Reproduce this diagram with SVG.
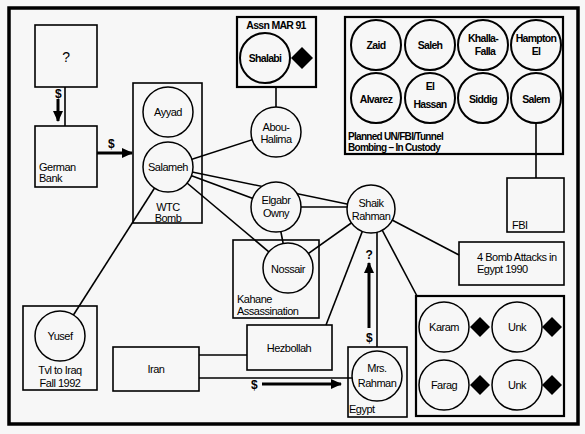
<svg xmlns="http://www.w3.org/2000/svg" width="585" height="434" viewBox="0 0 585 434">
<defs>
<marker id="ah" markerUnits="userSpaceOnUse" markerWidth="12" markerHeight="10" refX="10" refY="5" orient="auto">
<path d="M0,0 L11,5 L0,10 Z" fill="#000"/>
</marker>
<style>
text{font-family:"Liberation Sans",Arial,sans-serif;font-size:11px;fill:#000;letter-spacing:-0.5px}
.c{text-anchor:middle}
.b{font-weight:bold;font-size:10.5px;letter-spacing:-0.7px}
.bs{font-size:10px}
.bx{fill:none;stroke:#000;stroke-width:1.6}
.bx2{fill:none;stroke:#000;stroke-width:2.2}
.ci{fill:#f7f7f7;stroke:#000;stroke-width:1.5}
.ci2{fill:#f7f7f7;stroke:#000;stroke-width:2}
.ln{stroke:#000;stroke-width:1.6;fill:none}
.ar{stroke:#000;stroke-width:3;fill:none;marker-end:url(#ah)}
.d{font-weight:bold;font-size:12px}
.dm{fill:#000}
</style>
</defs>
<rect x="0" y="0" width="585" height="434" fill="#f7f7f7"/>
<rect x="9" y="8" width="569" height="416" fill="none" stroke="#000" stroke-width="3.5"/>

<g id="connectors">
<line class="ln" x1="65" y1="87" x2="65" y2="126"/>
<line class="ar" x1="58" y1="99" x2="58" y2="121"/>
<text class="d c" x="58" y="98">$</text>
<line class="ar" x1="97" y1="153" x2="132" y2="153"/>
<text class="d c" x="111" y="148">$</text>
<line class="ln" x1="276" y1="87" x2="276" y2="110"/>
<line class="ln" x1="168" y1="167" x2="276" y2="132"/>
<line class="ln" x1="168" y1="167" x2="371" y2="209"/>
<line class="ln" x1="168" y1="167" x2="276" y2="207"/>
<line class="ln" x1="168" y1="167" x2="288" y2="268"/>
<line class="ln" x1="168" y1="167" x2="60" y2="336"/>
<line class="ln" x1="276" y1="207" x2="371" y2="207"/>
<line class="ln" x1="276" y1="207" x2="288" y2="268"/>
<line class="ln" x1="288" y1="268" x2="371" y2="209"/>
<line class="ln" x1="371" y1="209" x2="326" y2="325"/>
<line class="ln" x1="377" y1="215" x2="377" y2="347"/>
<line class="ln" x1="371" y1="209" x2="459" y2="255"/>
<line class="ln" x1="371" y1="209" x2="417" y2="296"/>
<line class="ln" x1="536" y1="98" x2="536" y2="178"/>
<line class="ln" x1="199" y1="355" x2="247" y2="355"/>
<line class="ln" x1="199" y1="378" x2="377" y2="378"/>
<line class="ar" x1="262" y1="384" x2="341" y2="384"/>
<text class="d c" x="254" y="389">$</text>
<line class="ar" x1="369" y1="328" x2="369" y2="263"/>
<text class="d c" x="369" y="259">?</text>
<text class="d c" x="369" y="342">$</text>
</g>

<g id="unknown">
<rect class="bx" x="35" y="25" width="62" height="62"/>
<text class="c" x="66" y="62" style="font-size:14px">?</text>
</g>
<g id="german-bank">
<rect class="bx" x="35" y="126" width="62" height="61"/>
<text x="39" y="171">German</text>
<text x="39" y="182">Bank</text>
</g>
<g id="wtc-bomb">
<rect class="bx" x="133" y="83" width="69" height="140"/>
<text class="c" x="168" y="211">WTC</text>
<text class="c" x="168" y="222">Bomb</text>
</g>
<g id="ayyad">
<circle class="ci" cx="168" cy="112" r="25"/>
<text class="c" x="168" y="116">Ayyad</text>
</g>
<g id="salameh">
<circle class="ci" cx="168" cy="167" r="25"/>
<text class="c" x="168" y="171">Salameh</text>
</g>
<g id="assn-mar-91">
<rect class="bx2" x="237" y="17" width="79" height="70"/>
<text class="c b" x="276" y="29">Assn MAR 91</text>
</g>
<g id="shalabi">
<circle class="ci2" cx="265" cy="58" r="25"/>
<text class="c b" x="265" y="62">Shalabi</text>
<polygon class="dm" points="302,47 313,58 302,69 291,58"/>
</g>
<g id="abou-halima">
<circle class="ci" cx="276" cy="132" r="25"/>
<text class="c" x="276" y="131">Abou-</text>
<text class="c" x="276" y="143">Halima</text>
</g>
<g id="planned-un-fbi-tunnel">
<rect class="bx2" x="345" y="17" width="218" height="137"/>
<text class="b bs" x="348" y="140">Planned UN/FBI/Tunnel</text>
<text class="b bs" x="348" y="151">Bombing – In Custody</text>
</g>
<g id="zaid"><circle class="ci2" cx="376" cy="45" r="25"/><text class="c b" x="376" y="49">Zaid</text></g>
<g id="saleh"><circle class="ci2" cx="430" cy="45" r="25"/><text class="c b" x="430" y="49">Saleh</text></g>
<g id="khalla-falla"><circle class="ci2" cx="483" cy="45" r="25"/><text class="c b" x="483" y="42">Khalla-</text><text class="c b" x="485" y="55">Falla</text></g>
<g id="hampton-el"><circle class="ci2" cx="536" cy="45" r="25"/><text class="c b" x="536" y="42">Hampton</text><text class="c b" x="536" y="55">El</text></g>
<g id="alvarez"><circle class="ci2" cx="376" cy="98" r="25"/><text class="c b" x="376" y="103">Alvarez</text></g>
<g id="el-hassan"><circle class="ci2" cx="430" cy="98" r="25"/><text class="c b" x="430" y="90">El</text><text class="c b" x="430" y="108">Hassan</text></g>
<g id="siddig"><circle class="ci2" cx="483" cy="98" r="25"/><text class="c b" x="483" y="103">Siddig</text></g>
<g id="salem"><circle class="ci2" cx="536" cy="98" r="25"/><text class="c b" x="536" y="103">Salem</text></g>
<g id="fbi">
<rect class="bx" x="507" y="178" width="57" height="54"/>
<text x="512" y="229">FBI</text>
</g>
<g id="elgabr-owny">
<circle class="ci" cx="276" cy="207" r="25"/>
<text class="c" x="276" y="204">Elgabr</text>
<text class="c" x="276" y="217">Owny</text>
</g>
<g id="kahane-assassination">
<rect class="bx" x="233" y="240" width="86" height="78"/>
<text x="237" y="303">Kahane</text>
<text x="237" y="315">Assassination</text>
</g>
<g id="nossair">
<circle class="ci" cx="288" cy="268" r="25"/>
<text class="c" x="288" y="273">Nossair</text>
</g>
<g id="shaik-rahman">
<circle class="ci" cx="371" cy="209" r="24"/>
<text class="c" x="371" y="207">Shaik</text>
<text class="c" x="371" y="220">Rahman</text>
</g>
<g id="bomb-attacks-egypt">
<rect class="bx" x="459" y="242" width="105" height="43"/>
<text x="477" y="261">4 Bomb Attacks in</text>
<text x="477" y="273">Egypt 1990</text>
</g>
<g id="karam-group">
<rect class="bx2" x="416" y="296" width="148" height="120"/>
</g>
<g id="karam"><circle class="ci" cx="444" cy="327" r="25"/><text class="c" x="444" y="331">Karam</text><polygon class="dm" points="480,317 490,327 480,337 470,327"/></g>
<g id="unk-1"><circle class="ci" cx="517" cy="327" r="25"/><text class="c" x="517" y="331">Unk</text><polygon class="dm" points="552,317 562,327 552,337 542,327"/></g>
<g id="farag"><circle class="ci" cx="444" cy="385" r="25"/><text class="c" x="444" y="389">Farag</text><polygon class="dm" points="480,375 490,385 480,395 470,385"/></g>
<g id="unk-2"><circle class="ci" cx="517" cy="385" r="25"/><text class="c" x="517" y="389">Unk</text><polygon class="dm" points="552,375 562,385 552,395 542,385"/></g>
<g id="yusef-travel">
<rect class="bx" x="23" y="306" width="74" height="84"/>
<text class="c" x="60" y="374">Tvl to Iraq</text>
<text class="c" x="60" y="387">Fall 1992</text>
</g>
<g id="yusef">
<circle class="ci" cx="60" cy="336" r="25"/>
<text class="c" x="60" y="340">Yusef</text>
</g>
<g id="iran">
<rect class="bx" x="113" y="347" width="86" height="44"/>
<text class="c" x="156" y="373">Iran</text>
</g>
<g id="hezbollah">
<rect class="bx" x="247" y="325" width="85" height="45"/>
<text class="c" x="289" y="352">Hezbollah</text>
</g>
<g id="egypt">
<rect class="bx" x="348" y="347" width="59" height="70"/>
<text x="349" y="413">Egypt</text>
</g>
<g id="mrs-rahman">
<circle class="ci" cx="377" cy="376" r="25"/>
<text class="c" x="377" y="372">Mrs.</text>
<text class="c" x="377" y="387">Rahman</text>
</g>
</svg>
